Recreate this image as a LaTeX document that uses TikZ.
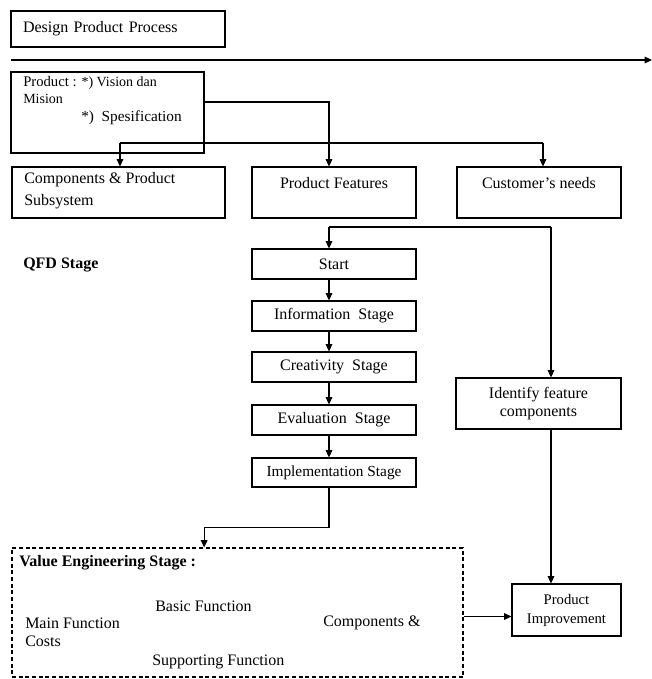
\documentclass[tikz,border=0pt]{standalone}
\usepackage{fontspec}
\setmainfont{Liberation Serif}
\usetikzlibrary{arrows.meta}
\tikzset{
  pbox/.style 2 args={draw, line width=0.8pt, minimum width=#1*0.75pt, minimum height=#2*0.75pt, inner sep=0pt},
  txt/.style={inner sep=0pt, font=\fontsize{12}{14}\selectfont},
  arr/.style={-{Triangle[length=5.5pt,width=5pt]}, line width=0.8pt},
  plain/.style={line width=0.8pt},
}
\begin{document}
\begin{tikzpicture}[x=0.75pt,y=0.75pt,yscale=-1,xscale=1]
\useasboundingbox (0,0) rectangle (652,679);

%Boxes top
\node[pbox={214}{36}, txt, text width=142.5pt, align=left] (design) at (118,29) {Design Product Process};
\node[pbox={193}{81}] (prod) at (107.5,112.5) {};
\node[pbox={213}{51}] (comp) at (118.5,192.5) {};
\node[pbox={164}{51}] (feat) at (334,192.5) {};
\node[pbox={164}{51}] (cust) at (539,192.5) {};

%QFD column
\node[pbox={164}{30}, txt] (start) at (334,264) {Start};
\node[pbox={164}{30}, txt] (info) at (334,316) {Information\ \ Stage};
\node[pbox={164}{30}, txt] (crea) at (334,367) {Creativity\ \ Stage};
\node[pbox={164}{30}, txt] (eval) at (334,420) {Evaluation\ \ Stage};
\node[pbox={164}{29}, txt, font=\fontsize{11.5}{13}\selectfont] (impl) at (334,472.5) {Implementation Stage};

%Right column
\node[pbox={165}{51}, txt, align=center] (ident) at (538.5,403.5) {Identify feature\\components};
\node[pbox={109}{52}, txt, font=\fontsize{11}{14.25}\selectfont, align=center] (impr) at (566.5,610) {Product\\Improvement};

%Value engineering
\node[pbox={451}{129}, dashed, dash pattern=on 3pt off 2pt] (ve) at (237.5,612.5) {};

% Text Node
\node[txt, anchor=west, font=\fontsize{11}{13}\selectfont] (prodl1) at (23,83) {Product : {\fontsize{10.5}{12}\selectfont *) Vision dan}};
\node[txt, anchor=west, font=\fontsize{10.5}{12}\selectfont] (prodl2) at (23,99) {Mision};
\node[txt, anchor=west, font=\fontsize{11.5}{13}\selectfont] (prodl3) at (81,118) {*)\ \ Spesification};
\node[txt, anchor=west, align=left, font=\fontsize{12}{16.5}\selectfont] (comptxt) at (24,191) {Components \& Product\\Subsystem};
\node[txt] (feattxt) at (334,183) {Product Features};
\node[txt] (custtxt) at (539,183) {Customer’s needs};
\node[txt, anchor=west, font=\fontsize{12}{14}\selectfont\bfseries] (qfd) at (23,265) {QFD Stage};
\node[txt, anchor=west, font=\fontsize{12}{14}\selectfont\bfseries] (vetitle) at (19,563) {Value Engineering Stage :};
\node[txt, anchor=west] (basic) at (155,606) {Basic Function};
\node[txt, anchor=west] (mainf) at (25,623) {Main Function};
\node[txt, anchor=west] (compc) at (323,623) {Components \&};
\node[txt, anchor=west] (costs) at (25,641) {Costs};
\node[txt, anchor=west] (support) at (152,662) {Supporting Function};

%Connectors
\coordinate (tl) at (11,60);
\coordinate (tr) at (652,60);
\coordinate (col) at (329,0);
\coordinate (busl) at (120,143);
\coordinate (busr) at (543,143);
\coordinate (ql) at (329,227);
\coordinate (qr) at (551,227);

\draw[arr] (tl) -- (tr);
\draw[arr] ([yshift=-7.9pt]prod.east) -| (col |- feat.north);
\draw[plain] (busl) -- (busr);
\draw[arr] (busl) -- (busl |- comp.north);
\draw[arr] (busr) -- (busr |- cust.north);
\draw[plain] (ql) -- (qr);
\draw[arr] (ql) -- (col |- start.north);
\draw[arr] (col |- start.south) -- (col |- info.north);
\draw[arr] (col |- info.south) -- (col |- crea.north);
\draw[arr] (col |- crea.south) -- (col |- eval.north);
\draw[arr] (col |- eval.south) -- (col |- impl.north);
\draw[arr] (qr) -- (qr |- ident.north);
\draw[arr] (qr |- ident.south) -- (qr |- impr.north);
\draw[arr] (col |- impl.south) -- ++(0,40) -| ([xshift=-25pt]ve.north);
\draw[arr] ([yshift=3pt]ve.east) -- ([yshift=3pt]ve.east -| impr.west);

\end{tikzpicture}
\end{document}
